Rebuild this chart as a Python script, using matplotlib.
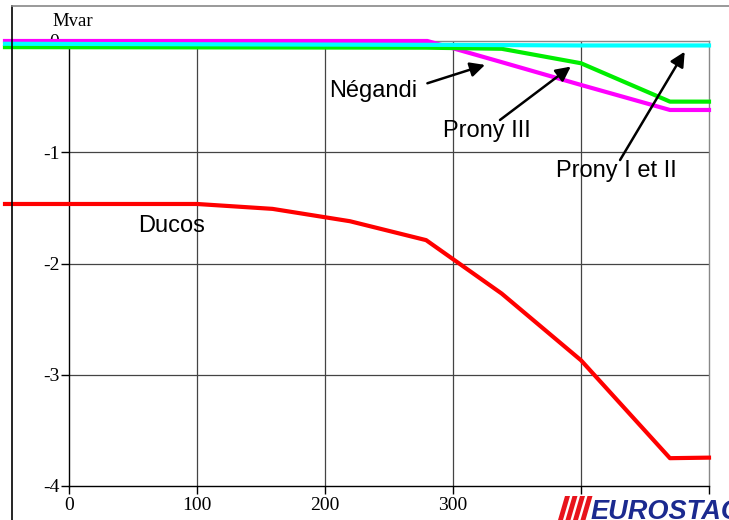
import matplotlib
matplotlib.use("Agg")
import matplotlib.pyplot as plt
from matplotlib.lines import Line2D
from matplotlib.patches import Polygon, Rectangle

# ---------------- data ----------------
ducos_x = [-50, 100, 159, 219.5, 279, 338, 400, 469.5, 500]
ducos_y = [-1.465, -1.465, -1.509, -1.62, -1.79, -2.27, -2.87, -3.75, -3.745]

negandi_x = [-50, 280, 338, 400, 469.5, 500]
negandi_y = [0.0, 0.0, -0.19, -0.395, -0.62, -0.62]

prony3_x = [-50, 279, 338, 400, 469.5, 500]
prony3_y = [-0.055, -0.06, -0.07, -0.2, -0.545, -0.545]

prony12_x = [-50, 300, 400, 500]
prony12_y = [-0.025, -0.035, -0.04, -0.04]

x_ticks = [0, 100, 200, 300, 400, 500]
x_labels = ["0", "100", "200", "300", "", ""]   # 400 / 500 hidden under the logo
y_ticks = [0, -1, -2, -3, -4]
y_labels = ["0", "-1", "-2", "-3", "-4"]

W, H = 729, 520
fig = plt.figure(figsize=(W / 100, H / 100), dpi=100)


def fx(px):
    return px / W


def fy(py):
    return 1 - py / H


ax = fig.add_axes([fx(69), fy(486), fx(709) - fx(69), fy(41) - fy(486)])
ax.set_xlim(0, 500)
ax.set_ylim(-4, 0)

serif = ["Liberation Serif", "DejaVu Serif"]
sans = ["Liberation Sans", "DejaVu Sans"]

# grid
for xv in x_ticks[1:-1]:
    ax.axvline(xv, color="#444444", lw=0.9, zorder=1)
for yv in y_ticks[1:-1]:
    ax.axhline(yv, color="#444444", lw=0.9, zorder=1)

ax.spines["left"].set_color("black")
ax.spines["bottom"].set_color("black")
ax.spines["top"].set_color("#888888")
ax.spines["right"].set_color("#888888")
for s in ax.spines.values():
    s.set_linewidth(1.0)

ax.set_xticks(x_ticks)
ax.set_yticks(y_ticks)
ax.set_xticklabels(x_labels, fontfamily=serif, fontsize=14)
ax.set_yticklabels(y_labels, fontfamily=serif, fontsize=14)
ax.tick_params(axis="both", direction="out", length=6, width=1, color="black")
ax.tick_params(axis="x", pad=2)
ax.tick_params(axis="y", pad=1)

lw = 3.0
ax.plot(ducos_x, ducos_y, color="#ff0000", lw=lw, clip_on=False, zorder=3)
ax.plot(negandi_x, negandi_y, color="#ff00ff", lw=lw, clip_on=False, zorder=3)
ax.plot(prony3_x, prony3_y, color="#00ee00", lw=lw, clip_on=False, zorder=3)
ax.plot(prony12_x, prony12_y, color="#00ffff", lw=lw, clip_on=False, zorder=3)

# labels and arrows
tfs = 17
ax.text(80, -1.713, "Ducos", fontfamily=sans, fontsize=tfs, ha="center", va="baseline")
arrow = dict(arrowstyle="-|>", color="black", lw=1.8, mutation_scale=22, shrinkA=0, shrinkB=0)
ax.annotate("", xy=(325, -0.215), xytext=(280, -0.38), arrowprops=arrow)
ax.text(237.9, -0.503, "Négandi", fontfamily=sans, fontsize=tfs, ha="center", va="baseline")
ax.annotate("", xy=(392, -0.23), xytext=(336.7, -0.71), arrowprops=arrow)
ax.text(326.6, -0.862, "Prony III", fontfamily=sans, fontsize=tfs, ha="center", va="baseline")
ax.annotate("", xy=(481, -0.096), xytext=(430.5, -1.07), arrowprops=arrow)
ax.text(427.7, -1.219, "Prony I et II", fontfamily=sans, fontsize=tfs, ha="center", va="baseline")

# y unit label
fig.text(fx(52), fy(26), "Mvar", fontfamily=serif, fontsize=13.5, ha="left", va="baseline")

# figure frame
fig.add_artist(Line2D([fx(12), fx(12)], [fy(6), 0], transform=fig.transFigure, color="black", lw=1.2))
fig.add_artist(Line2D([fx(12), 1], [fy(6), fy(6)], transform=fig.transFigure, color="#888888", lw=1.2))

# logo
for i in range(4):
    x0 = 558 + 7.5 * i
    pts = [(fx(x0), fy(520)), (fx(x0 + 5), fy(520)), (fx(x0 + 12), fy(496)), (fx(x0 + 7), fy(496))]
    fig.add_artist(Polygon(pts, closed=True, transform=fig.transFigure,
                           facecolor="#e8141c", edgecolor="none", zorder=6))
fig.text(fx(591), fy(519), "EUROSTAG", fontfamily=sans, fontsize=19.5, fontweight="bold",
         fontstyle="italic", color="#1b2a8f", ha="left", va="baseline", zorder=7)

fig.savefig("out.png", dpi=100)
